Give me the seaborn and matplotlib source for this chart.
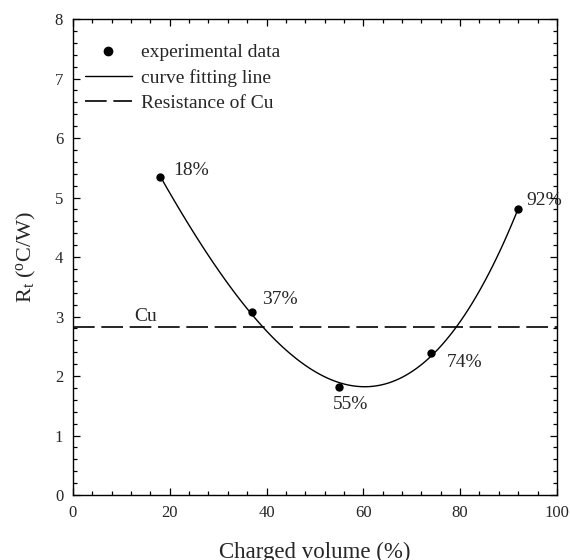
import numpy as np
import pandas as pd
import matplotlib
matplotlib.use("Agg")
import matplotlib.pyplot as plt
from matplotlib.ticker import MultipleLocator
from matplotlib.lines import Line2D
import seaborn as sns

# Data
charged_volume = [18, 37, 55, 74, 92]
resistance = [5.35, 3.08, 1.82, 2.38, 4.80]
point_labels = ["18%", "37%", "55%", "74%", "92%"]
label_offsets_px = [(13, 6), (10, 12), (-6, -18), (16, -9), (8, 9)]
cu_resistance = 2.83

sns.set_style("ticks")
plt.rcParams["font.family"] = ["Liberation Serif", "DejaVu Serif"]
plt.rcParams["mathtext.fontset"] = "custom"
plt.rcParams["mathtext.rm"] = "Liberation Serif"
plt.rcParams["mathtext.it"] = "Liberation Serif:italic"

df = pd.DataFrame({"x": charged_volume, "y": resistance})

fig = plt.figure(figsize=(5.7, 5.6), dpi=100)
ax = fig.add_axes([0.128, 0.116, 0.849, 0.850])

dash_pattern = (13, 4)

sns.regplot(data=df, x="x", y="y", order=3, ci=None, scatter=False, ax=ax,
            line_kws=dict(color="black", lw=1.0))
sns.scatterplot(data=df, x="x", y="y", ax=ax, color="black", s=36,
                edgecolor="black", linewidth=0, zorder=5)
ax.axhline(cu_resistance, color="black", lw=1.2, dashes=dash_pattern)

for xv, yv, lab, off in zip(charged_volume, resistance, point_labels, label_offsets_px):
    ax.annotate(lab, (xv, yv), xytext=off, textcoords="offset pixels",
                ha="left", va="center", fontsize=14)
ax.text(12.6, cu_resistance + 0.03, "Cu", fontsize=14, ha="left", va="bottom")

ax.set_xlim(0, 100)
ax.set_ylim(0, 8)
ax.xaxis.set_major_locator(MultipleLocator(20))
ax.xaxis.set_minor_locator(MultipleLocator(4))
ax.yaxis.set_major_locator(MultipleLocator(1))
ax.yaxis.set_minor_locator(MultipleLocator(0.2))
ax.tick_params(which="both", direction="in", top=True, right=True,
               labelsize=12, color="black", width=0.9)
ax.tick_params(which="major", length=5, pad=7)
ax.tick_params(which="minor", length=3)
for sp in ax.spines.values():
    sp.set_linewidth(1.0)
    sp.set_color("black")

ax.set_xlabel("Charged volume (%)", fontsize=16.5, labelpad=15)
ax.set_ylabel(r"R$_\mathrm{t}$ ($^\mathrm{o}$C/W)", fontsize=16, labelpad=12)

handles = [
    Line2D([], [], marker="o", color="black", linestyle="none", markersize=6),
    Line2D([], [], color="black", lw=1.0),
    Line2D([], [], color="black", lw=1.2, dashes=dash_pattern),
]
labels = ["experimental data", "curve fitting line", "Resistance of Cu"]
ax.legend(handles, labels, loc="upper left", bbox_to_anchor=(0.025, 0.948),
          frameon=False, fontsize=14, handlelength=2.4, handletextpad=0.5,
          labelspacing=0.38, borderpad=0, borderaxespad=0)

fig.savefig("out.png", dpi=100)
